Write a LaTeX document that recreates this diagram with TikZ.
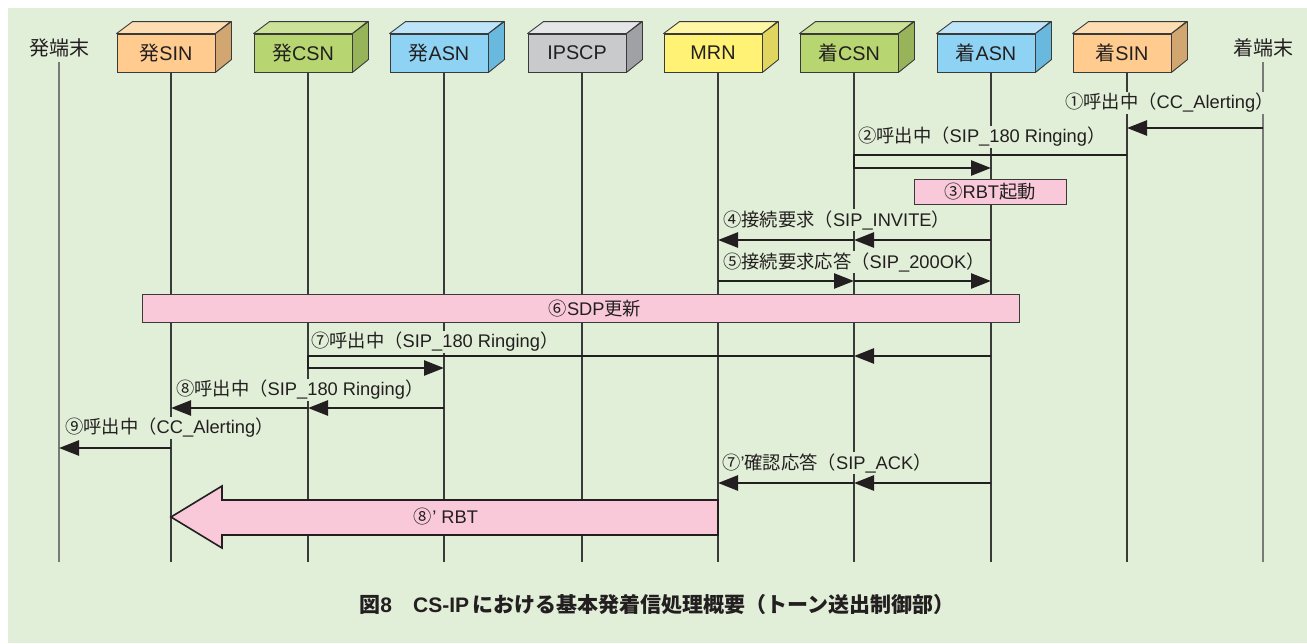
\documentclass[tikz,border=0pt]{standalone}
\usepackage{fontspec}
\setmainfont{Liberation Sans}
\newfontfamily\jp{Noto Sans CJK JP}
\usetikzlibrary{arrows.meta,calc}
\newcommand\J[1]{{\jp #1}}

\definecolor{bg}{HTML}{E2EFD8}
\definecolor{pk}{HTML}{F9C9DA}
\definecolor{orF}{HTML}{FFCB8E}\definecolor{orT}{HTML}{FFDDB3}\definecolor{orS}{HTML}{D2A671}
\definecolor{grF}{HTML}{B7D671}\definecolor{grT}{HTML}{CBE298}\definecolor{grS}{HTML}{97B45A}
\definecolor{blF}{HTML}{8ED3F3}\definecolor{blT}{HTML}{BDE4F8}\definecolor{blS}{HTML}{69B9DE}
\definecolor{gyF}{HTML}{C9CACC}\definecolor{gyT}{HTML}{E5E6E8}\definecolor{gyS}{HTML}{A0A1A4}
\definecolor{yeF}{HTML}{FFF275}\definecolor{yeT}{HTML}{FFF7A6}\definecolor{yeS}{HTML}{E0D55F}
\definecolor{ink}{HTML}{231F20}
\definecolor{edgec}{HTML}{3A3A3A}
\definecolor{termc}{HTML}{7A7A7A}

\newcommand\cubebox[6]{%
  \node[cubeface, fill=#3] (#1) at (#2-5,53) {#6};
  \filldraw[cubeedge, fill=#4] (#1.north west) -- ++(16,-12) -- ++(98,0) -- (#1.north east) -- cycle;
  \filldraw[cubeedge, fill=#5] (#1.north east) -- ++(16,-12) -- ++(0,38) -- (#1.south east) -- cycle;
}

\tikzset{
  cubeface/.style={draw=edgec, line width=0.9pt, minimum width=98pt, minimum height=38pt,
    inner sep=0pt, font=\fontsize{19.8}{22}\selectfont, text=ink},
  cubeedge/.style={draw=edgec, line width=0.9pt, line join=round},
  life/.style={draw=edgec, line width=1.1pt},
  termline/.style={draw=termc, line width=1.7pt},
  termlbl/.style={font=\jp\fontsize{20}{22}\selectfont, text=ink, inner sep=1pt},
  msg/.style={draw=ink, line width=2.6pt, -{Triangle[length=20pt,width=15pt]}},
  lbl/.style={fill=bg, inner sep=1pt, anchor=west, font=\fontsize{18.3}{20}\selectfont, text=ink},
  pinkbox/.style={draw=edgec, line width=1pt, fill=pk, inner sep=0pt, text=ink,
    font=\fontsize{18.3}{20}\selectfont},
  plain/.style={inner sep=0pt, text=ink, font=\fontsize{18.3}{20}\selectfont},
  bigarrow/.style={draw=ink, line width=1.6pt, fill=pk, line join=miter},
  caption/.style={font=\bfseries\fontsize{21}{24}\selectfont, text=ink},
}

\begin{document}
\begin{tikzpicture}[x=1pt,y=-1pt]
\useasboundingbox (0,0) rectangle (1307,643);
\fill[bg] (8,8) rectangle (1307,643);

% lifeline positions
\coordinate (L1) at (59,0);
\coordinate (L2) at (171,0);
\coordinate (L3) at (308,0);
\coordinate (L4) at (444,0);
\coordinate (L5) at (582,0);
\coordinate (L6) at (718,0);
\coordinate (L7) at (854,0);
\coordinate (L8) at (991,0);
\coordinate (L9) at (1127,0);
\coordinate (L10) at (1263,0);
\coordinate (bot) at (0,562);

% rows
\coordinate (r1) at (0,128);
\coordinate (r2) at (0,155);
\coordinate (r2b) at (0,168);
\coordinate (r4) at (0,240);
\coordinate (r5) at (0,281);
\coordinate (r7) at (0,356);
\coordinate (r7b) at (0,368);
\coordinate (r8) at (0,408);
\coordinate (r9) at (0,448);
\coordinate (r10) at (0,483);

% terminals
\node[termlbl] (tA) at (59,48) {発端末};
\node[termlbl] (tB) at (1263,48) {着端末};
\draw[termline] (L1 |- 0,62) -- (L1 |- bot);
\draw[termline] (L10 |- 0,62) -- (L10 |- bot);

% lifelines
\foreach \i in {2,...,9} {\draw[life] (L\i |- 0,72) -- (L\i |- bot);}

% boxes
\cubebox{sinA}{171}{orF}{orT}{orS}{\J{発}SIN}
\cubebox{csnA}{308}{grF}{grT}{grS}{\J{発}CSN}
\cubebox{asnA}{444}{blF}{blT}{blS}{\J{発}ASN}
\cubebox{ipscp}{582}{gyF}{gyT}{gyS}{IPSCP}
\cubebox{mrn}{718}{yeF}{yeT}{yeS}{MRN}
\cubebox{csnB}{854}{grF}{grT}{grS}{\J{着}CSN}
\cubebox{asnB}{991}{blF}{blT}{blS}{\J{着}ASN}
\cubebox{sinB}{1127}{orF}{orT}{orS}{\J{着}SIN}

% pink boxes
\node[pinkbox, minimum width=152pt, minimum height=25pt] (rbt) at (990,191.5) {\J{③}RBT\J{起動}};
\node[pinkbox, minimum width=877pt, minimum height=28pt] (sdp) at (580.5,308) {};
\node[plain] (sdpt) at (595,309) {\J{⑥}SDP\J{更新}};

% big arrow
\filldraw[bigarrow] (L6 |- 0,500) -- (222,500) -- (222,486) -- (L2 |- 0,517)
  -- (222,548) -- (222,535) -- (L6 |- 0,535) -- cycle;
\node[plain] (rbt2) at (446,517) {\J{⑧}' RBT};

% labels
\node[lbl] (m1) at (1064,103) {\J{①呼出中（}CC\_Alerting\J{）}};
\node[lbl] (m2) at (857,137) {\J{②呼出中（}SIP\_180 Ringing\J{）}};
\node[lbl] (m4) at (722,220) {\J{④接続要求（}SIP\_INVITE\J{）}};
\node[lbl] (m5) at (722,262) {\J{⑤接続要求応答（}SIP\_200OK\J{）}};
\node[lbl] (m7) at (310,342) {\J{⑦呼出中（}SIP\_180 Ringing\J{）}};
\node[lbl] (m8) at (175,390) {\J{⑧呼出中（}SIP\_180 Ringing\J{）}};
\node[lbl] (m9) at (64,428) {\J{⑨呼出中（}CC\_Alerting\J{）}};
\node[lbl] (m10) at (721,463) {\J{⑦}'\J{確認応答（}SIP\_ACK\J{）}};

% messages
\draw[msg] (L10 |- r1) -- (L9 |- r1);
\draw[msg] (L9 |- r2) -- (L7 |- r2) -- (L7 |- r2b) -- (L8 |- r2b);
\draw[msg] (L8 |- r4) -- (L7 |- r4);
\draw[msg] (L7 |- r4) -- (L6 |- r4);
\draw[msg] (L6 |- r5) -- (L7 |- r5);
\draw[msg] (L7 |- r5) -- (L8 |- r5);
\draw[msg] (L8 |- r7) -- (L7 |- r7);
\draw[msg] (L7 |- r7) -- (L3 |- r7) -- (L3 |- r7b) -- (L4 |- r7b);
\draw[msg] (L4 |- r8) -- (L3 |- r8);
\draw[msg] (L3 |- r8) -- (L2 |- r8);
\draw[msg] (L2 |- r9) -- (L1 |- r9);
\draw[msg] (L8 |- r10) -- (L7 |- r10);
\draw[msg] (L7 |- r10) -- (L6 |- r10);

% caption
\node[caption] (cap) at (657,605) {\J{図}8\J{　}CS-IP\,\J{における基本発着信処理概要（トーン送出制御部）}};
\end{tikzpicture}
\end{document}
